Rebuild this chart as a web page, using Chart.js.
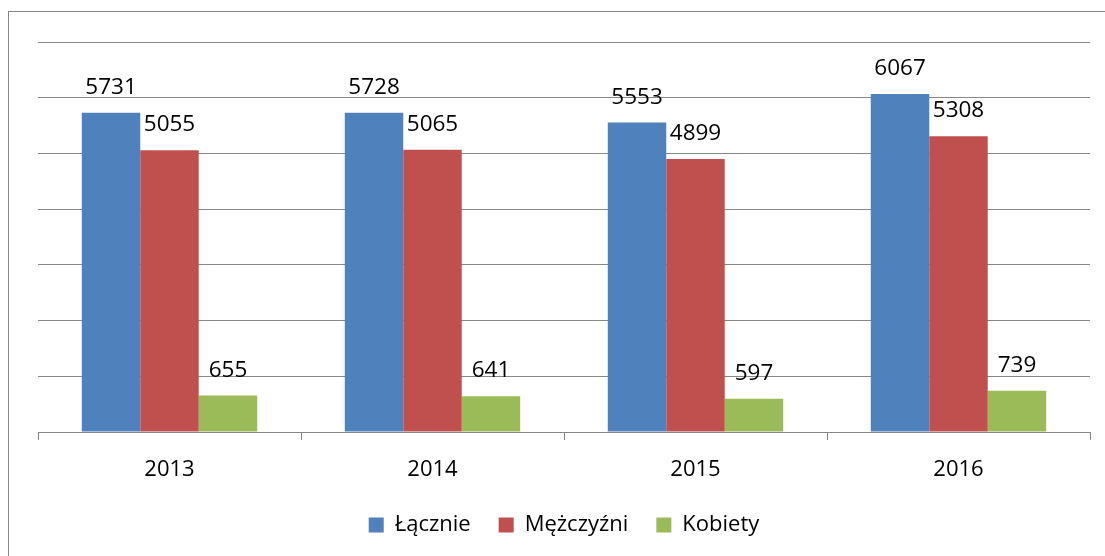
<!DOCTYPE html>
<html><head><meta charset="utf-8">
<script src="https://cdn.jsdelivr.net/npm/chart.js@4/dist/chart.umd.min.js"></script>
<style>html,body{margin:0;padding:0;background:#fff}#wrap{width:1105px;height:556px;position:relative}</style>
</head><body><div id="wrap"><canvas id="c" width="1105" height="556"></canvas></div>
<script>
const categories = ['2013', '2014', '2015', '2016'];
const seriesNames = ['Łącznie', 'Mężczyźni', 'Kobiety'];
const lacznie = [5731, 5728, 5553, 6067];
const mezczyzni = [5055, 5065, 4899, 5308];
const kobiety = [655, 641, 597, 739];
const colors = ['#4F81BD', '#C0504D', '#9BBB59'];
const FONT = '"Open Sans", "Noto Sans", sans-serif';
const GRID = '#878787';

const borderPlugin = {
  id: 'outerBorder',
  beforeDraw(chart) {
    const ctx = chart.ctx;
    ctx.save();
    ctx.fillStyle = '#fff';
    ctx.fillRect(0, 0, chart.width, chart.height);
    ctx.strokeStyle = GRID;
    ctx.lineWidth = 1;
    ctx.strokeRect(8.5, 11.5, chart.width + 10, chart.height + 10);
    ctx.restore();
  }
};
const labelPlugin = {
  id: 'valueLabels',
  afterDatasetsDraw(chart) {
    const ctx = chart.ctx;
    ctx.save();
    ctx.font = '22.5px ' + FONT;
    ctx.fillStyle = '#000';
    ctx.textAlign = 'center';
    ctx.textBaseline = 'alphabetic';
    chart.data.datasets.forEach((ds, di) => {
      chart.getDatasetMeta(di).data.forEach((bar, i) => {
        ctx.fillText(String(ds.data[i]), bar.x, bar.y - 19);
      });
    });
    ctx.restore();
  }
};

new Chart(document.getElementById('c'), {
  type: 'bar',
  data: {
    labels: categories,
    datasets: [
      { label: seriesNames[0], data: lacznie, backgroundColor: colors[0] },
      { label: seriesNames[1], data: mezczyzni, backgroundColor: colors[1] },
      { label: seriesNames[2], data: kobiety, backgroundColor: colors[2] }
    ]
  },
  options: {
    responsive: false,
    animation: false,
    devicePixelRatio: 1,
    layout: { padding: { left: 38, right: 15, top: 42, bottom: 10 } },
    datasets: { bar: { categoryPercentage: 0.667, barPercentage: 1.0, borderWidth: 0 } },
    scales: {
      x: {
        grid: { display: true, drawOnChartArea: false, drawTicks: true, tickLength: 8, color: GRID, offset: true },
        border: { display: true, color: GRID, width: 1 },
        ticks: { color: '#000', font: { family: FONT, size: 22 }, padding: 17 },
        afterFit(scale) { scale.height = 54; }
      },
      y: {
        min: 0, max: 7000,
        ticks: { display: false, stepSize: 1000 },
        grid: { color: GRID, drawTicks: false, lineWidth: 1 },
        border: { display: false }
      }
    },
    plugins: {
      legend: {
        position: 'bottom',
        labels: { boxWidth: 15, boxHeight: 15, padding: 28, color: '#000', font: { family: FONT, size: 22 } }
      },
      tooltip: { enabled: false }
    }
  },
  plugins: [borderPlugin, labelPlugin]
});
</script></body></html>
